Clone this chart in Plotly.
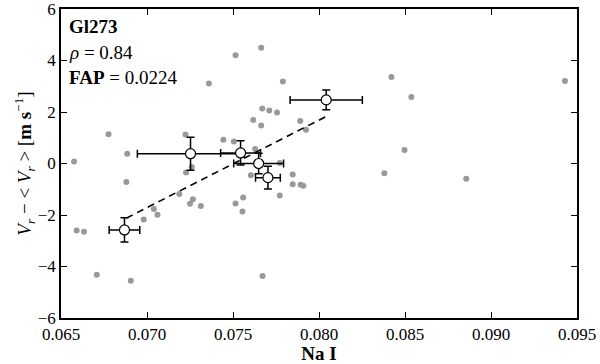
import plotly.graph_objects as go

# individual measurements (grey dots)
na_i = [
    0.06576, 0.06591, 0.06634, 0.06708, 0.06776, 0.06885, 0.06880, 0.06906,
    0.06981, 0.07040, 0.07061, 0.07188, 0.07224, 0.07260, 0.07227, 0.07267,
    0.07250, 0.07313, 0.07360, 0.07444, 0.07505, 0.07515, 0.07515, 0.07559,
    0.07555, 0.07618, 0.07629, 0.07604, 0.07664, 0.07664, 0.07670, 0.07711,
    0.07756, 0.07790, 0.07772, 0.07772, 0.07672, 0.07847, 0.07847, 0.07893,
    0.07909, 0.07891, 0.07924, 0.08421, 0.08537, 0.08497, 0.08380, 0.08856,
    0.09430,
]
vr = [
    0.08, -2.60, -2.65, -4.32, 1.14, 0.38, -0.72, -4.55,
    -2.17, -1.77, -1.99, -1.18, 1.13, -0.14, -0.35, -1.39,
    -1.56, -1.65, 3.11, 0.92, 0.85, 4.20, -1.55, -1.32,
    -1.86, 1.69, 0.56, -0.46, 4.50, 1.48, 2.14, 2.06,
    1.98, 3.18, 0.02, -1.24, -4.37, -0.43, -0.81, -0.83,
    -0.86, 1.65, 1.31, 3.36, 2.58, 0.52, -0.38, -0.59,
    3.20,
]

# binned means with errors (open circles)
bin_x = [0.06869, 0.07253, 0.07544, 0.07649, 0.07703, 0.08042]
bin_y = [-2.58, 0.38, 0.41, 0.00, -0.55, 2.47]
bin_xerr = [0.00089, 0.00309, 0.00116, 0.00145, 0.00072, 0.00210]
bin_yerr = [0.47, 0.64, 0.47, 0.40, 0.44, 0.38]

# linear fit through the bins
fit_x = [0.0688, 0.0804]
fit_y = [-2.12, 1.82]

FONT = "Liberation Serif"

fig = go.Figure()

fig.add_trace(go.Scatter(
    x=na_i, y=vr, mode="markers",
    marker=dict(color="#999999", size=6, line=dict(width=0)),
    showlegend=False,
))

fig.add_trace(go.Scatter(
    x=fit_x, y=fit_y, mode="lines",
    line=dict(color="black", width=1.6, dash="7px,5px"),
    showlegend=False,
))

fig.add_trace(go.Scatter(
    x=bin_x, y=bin_y, mode="markers",
    marker=dict(color="white", size=10, line=dict(color="black", width=1.2)),
    error_x=dict(type="data", array=bin_xerr, color="black", thickness=1.5, width=4),
    error_y=dict(type="data", array=bin_yerr, color="black", thickness=1.5, width=4),
    showlegend=False,
))

labels = [
    ("<b>Gl273</b>", 0.985),
    ("<i>ρ</i> = 0.84", 0.90),
    ("<b>FAP</b> = 0.0224", 0.82),
]
for text, y in labels:
    fig.add_annotation(
        text=text, xref="paper", yref="paper", x=0.012, y=y,
        xanchor="left", yanchor="top", showarrow=False,
        font=dict(family=FONT, size=19, color="black"),
    )

axis_common = dict(
    showline=True, linecolor="black", linewidth=1.5, mirror="allticks",
    ticks="inside", ticklen=6, tickwidth=1.2, tickcolor="black",
    showgrid=False, zeroline=False, automargin=False,
    ticklabeloverflow="allow",
    tickfont=dict(family=FONT, size=17, color="black"),
)

fig.update_layout(
    width=600, height=364,
    margin=dict(l=61, r=23, t=9, b=46),
    plot_bgcolor="white", paper_bgcolor="white",
    xaxis=dict(
        range=[0.065, 0.095], tickmode="linear", tick0=0.065, dtick=0.005,
        tickformat=".3f",
        title=dict(text="<b>Na I</b>", standoff=0,
                   font=dict(family=FONT, size=19, color="black")),
        **axis_common,
    ),
    yaxis=dict(
        range=[-6, 6], tickmode="linear", tick0=-6, dtick=2,
        tickformat="d",
        title=dict(
            text="<i>V<sub>r</sub></i> − &lt; <i>V<sub>r</sub></i> &gt; [<b>m s</b><sup>−1</sup>]",
            standoff=0, font=dict(family=FONT, size=19, color="black"),
        ),
        **axis_common,
    ),
)

# drop the page's default body margin so the figure sits at the window's corner
fig.write_html(
    "out.html",
    config={"displayModeBar": False},
    post_script="document.body.style.margin = '0';",
)
